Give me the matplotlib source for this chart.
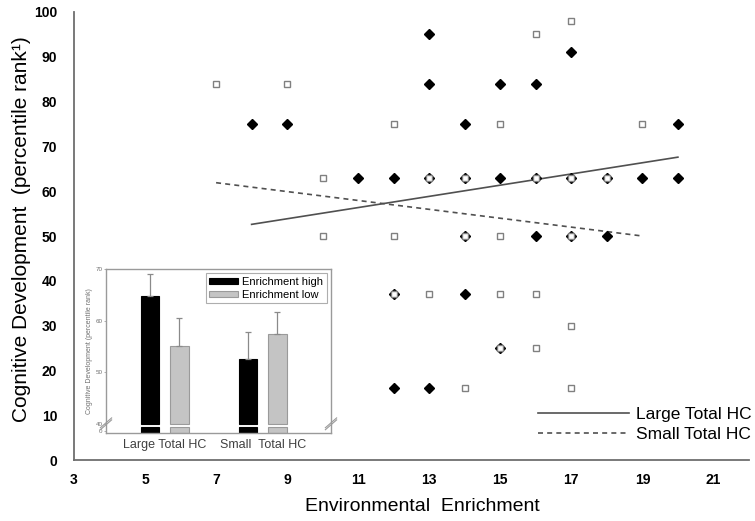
import matplotlib.pyplot as plt
import numpy as np
from matplotlib.lines import Line2D

plt.rcParams['font.family'] = ['Liberation Sans', 'DejaVu Sans']

# filled diamonds
dia_x = [8, 9, 11, 12, 13, 13, 13, 14, 14, 14, 14, 15, 15, 15, 16, 16, 16,
         17, 17, 17, 18, 18, 19, 20, 20, 12, 12, 13]
dia_y = [75, 75, 63, 63, 95, 84, 63, 75, 63, 50, 37, 84, 63, 25, 84, 63, 50,
         91, 63, 50, 63, 50, 63, 75, 63, 37, 16, 16]
# open squares
sq_x = [7, 9, 10, 10, 12, 15, 19, 16, 17, 12, 15, 15, 16, 13, 16, 17, 14, 17,
        13, 14, 16, 17, 18, 14, 17, 12, 15]
sq_y = [84, 84, 63, 50, 75, 75, 75, 95, 98, 50, 50, 37, 37, 37, 25, 30, 16, 16,
        63, 63, 63, 63, 63, 50, 50, 37, 25]

# regression lines (end points)
large_x = [8, 20]
large_y = [52.6, 67.6]
small_x = [7, 19]
small_y = [61.9, 50.0]

# inset bar chart
groups = ['Large Total HC', 'Small  Total HC']
high_vals = [64.8, 52.5]
high_err = [4.2, 5.3]
low_vals = [55.0, 57.4]
low_err = [5.5, 4.3]

fig = plt.figure(figsize=(7.55, 5.21), dpi=100)
ax = fig.add_axes([0.098, 0.117, 0.894, 0.86])

line_col = '#505050'
ax.plot(large_x, large_y, color=line_col, lw=1.2, zorder=2)
ax.plot(small_x, small_y, color=line_col, lw=1.2, ls=(0, (3, 2.5)), zorder=2)
ax.plot(dia_x, dia_y, 'D', color='black', ms=5.5, ls='none', zorder=3)
ax.plot(sq_x, sq_y, 's', mfc='white', mec='#808080', mew=1, ms=5, ls='none', zorder=4)

ax.set_xlim(3, 22)
ax.set_ylim(0, 100)
ax.set_xticks(range(3, 22, 2))
ax.set_yticks(range(0, 101, 10))
ax.tick_params(length=0, labelsize=10, pad=12)
for lab in ax.get_xticklabels() + ax.get_yticklabels():
    lab.set_fontweight('bold')
ax.tick_params(axis='x', pad=9)
for s in ['top', 'right']:
    ax.spines[s].set_visible(False)
for s in ['left', 'bottom']:
    ax.spines[s].set_color('#6e6e6e')
    ax.spines[s].set_linewidth(1.3)

ax.set_xlabel('Environmental  Enrichment', fontsize=14)
ax.xaxis.set_label_coords(0.516, -0.084)
ax.set_ylabel('Cognitive Development  (percentile rank\u00b9)', fontsize=15)
ax.yaxis.set_label_coords(-0.064, 0.516)

handles = [Line2D([], [], color=line_col, lw=1.2),
           Line2D([], [], color=line_col, lw=1.2, ls=(0, (3, 2.5)))]
ax.legend(handles, ['Large Total HC', 'Small Total HC'], loc='center right',
          bbox_to_anchor=(752 / 755, 0.185), bbox_transform=fig.transFigure,
          frameon=False, fontsize=12.5, handlelength=5.2, handletextpad=0.45,
          labelspacing=0.3, borderpad=0, borderaxespad=0)

# inset
ai = fig.add_axes([106 / 755, 88 / 521, 225 / 755, 164 / 521])
lo = 38.2
gap_lo, gap_hi = 39.4, 40.0
w = 0.19
off = 0.15
xpos = np.arange(len(groups))
bar_handles = []
for vals, errs, sign, fc, ec in [(high_vals, high_err, -1, 'black', 'black'),
                                 (low_vals, low_err, 1, '#c4c4c4', '#9a9a9a')]:
    xs = xpos + sign * off
    ai.bar(xs, [gap_lo - lo] * len(xs), bottom=lo, width=w, color=fc, edgecolor=ec, lw=0.8)
    b = ai.bar(xs, np.array(vals) - gap_hi, bottom=gap_hi, width=w, color=fc, edgecolor=ec, lw=0.8)
    bar_handles.append(b)
    ai.errorbar(xs, vals, yerr=[[0] * len(xs), errs], fmt='none', ecolor='#8a8a8a',
                elinewidth=0.9, capsize=2, capthick=0.9)

ai.set_xlim(-0.6, 1.696)
ai.set_ylim(lo, 70)
ai.set_xticks(xpos)
ai.set_xticklabels(groups, fontsize=9, color='#404040')
ai.set_yticks([lo + 0.3, 40, 50, 60, 70])
ai.set_yticklabels(['0', '40', '50', '60', '70'], fontsize=4.5, color='#707070')
ai.tick_params(axis='y', length=1.5, width=0.5, color='#909090', pad=1)
ai.tick_params(axis='x', length=0, pad=4)
for s in ai.spines.values():
    s.set_color('#9a9a9a')
    s.set_linewidth(1)
ai.set_ylabel('Cognitive Development (percentile rank)', fontsize=5, color='#707070', labelpad=2)

# axis break marks
for xb in [0, 1]:
    for dy in [0, 0.012]:
        ai.plot([xb - 0.025, xb + 0.025], [0.02 + dy, 0.08 + dy], transform=ai.transAxes,
                color='#9a9a9a', lw=0.8, clip_on=False)

leg = ai.legend(bar_handles, ['Enrichment high', 'Enrichment low'], loc='upper right',
                fontsize=8, frameon=True, fancybox=False, edgecolor='#9a9a9a',
                handlelength=2.6, handleheight=0.45, borderaxespad=0.4, borderpad=0.3,
                labelspacing=0.25, handletextpad=0.4)
leg.get_frame().set_linewidth(0.8)

fig.savefig('out.png', dpi=100)
